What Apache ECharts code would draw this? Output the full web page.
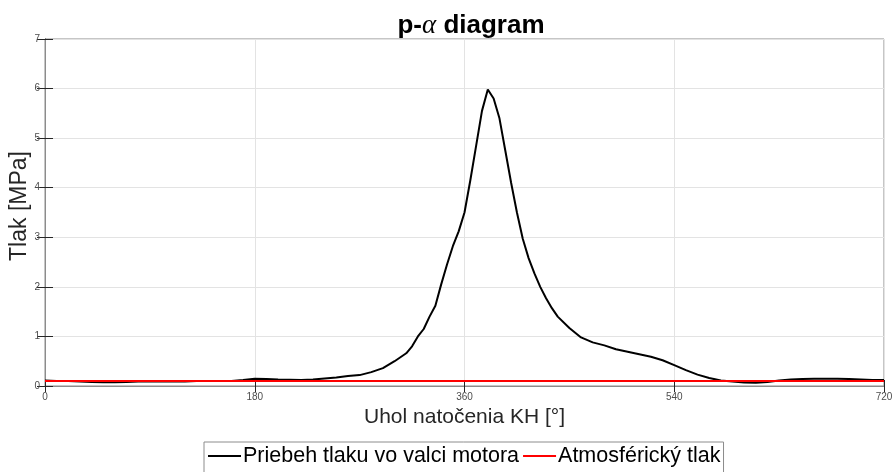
<!DOCTYPE html>
<html>
<head>
<meta charset="utf-8">
<script src="https://cdn.jsdelivr.net/npm/echarts@6/dist/echarts.min.js"></script>
<style>
  html, body { margin: 0; padding: 0; background: #fff; }
  #chart { width: 896px; height: 472px; }
</style>
</head>
<body>
<div id="chart"></div>
<script>
// uhol natocenia KH [deg] a tlak vo valci [MPa]
const angles = [0, 10, 20, 30, 40, 50, 60, 70, 80, 90, 100, 110, 120, 130, 140, 150, 160, 170,
  180, 190, 200, 210, 220, 230, 240, 250, 260, 270, 280, 290, 300, 305, 310, 315, 320, 325,
  330, 335, 340, 345, 350, 355, 360, 365, 370, 375, 380, 385, 390, 395, 400, 405, 410, 415,
  420, 425, 430, 435, 440, 450, 460, 470, 480, 490, 500, 510, 520, 530, 540, 550, 560, 570,
  580, 590, 600, 610, 620, 630, 640, 650, 660, 670, 680, 690, 700, 710, 720];
const pressure = [0.11, 0.10, 0.10, 0.09, 0.08, 0.075, 0.075, 0.08, 0.09, 0.09, 0.09, 0.09, 0.09, 0.10, 0.10, 0.10, 0.10, 0.12,
  0.145, 0.14, 0.13, 0.125, 0.12, 0.13, 0.15, 0.17, 0.20, 0.22, 0.28, 0.36, 0.50, 0.58, 0.66, 0.80, 1.00, 1.15,
  1.40, 1.62, 2.05, 2.45, 2.82, 3.12, 3.50, 4.15, 4.85, 5.55, 5.98, 5.80, 5.40, 4.75, 4.10, 3.50, 2.97, 2.58,
  2.27, 2.00, 1.77, 1.57, 1.40, 1.17, 0.98, 0.88, 0.82, 0.74, 0.69, 0.64, 0.59, 0.52, 0.42, 0.32, 0.23, 0.16,
  0.11, 0.09, 0.07, 0.065, 0.08, 0.11, 0.13, 0.14, 0.145, 0.145, 0.145, 0.14, 0.13, 0.12, 0.12];
const atmAngles = [0, 720];
const atmPressure = [0.1, 0.1];
const seriesNames = ['Priebeh tlaku vo valci motora', 'Atmosférický tlak'];

const chart = echarts.init(document.getElementById('chart'));

const font = '"Liberation Sans", Arial, sans-serif';
const axisDark = '#262626';

const option = {
  backgroundColor: '#fff',
  animation: false,
  textStyle: { fontFamily: font },
  title: {
    text: '{t|p-}{a|α}{t| diagram}',
    left: 466,
    textAlign: 'center',
    top: 7,
    textStyle: {
      rich: {
        t: { fontSize: 26, fontWeight: 'bold', color: '#000', fontFamily: font },
        a: { fontSize: 27, fontStyle: 'italic', fontWeight: 'normal', color: '#000', fontFamily: '"Liberation Serif", serif' }
      }
    }
  },
  // popis osi y (rucne, aby nebol orezany)
  graphic: [{
    type: 'text',
    x: 20, y: 206,
    rotation: Math.PI / 2,
    style: {
      text: 'Tlak [MPa]',
      fontSize: 23,
      fontFamily: font,
      fill: axisDark,
      align: 'center',
      verticalAlign: 'middle'
    }
  }],
  grid: {
    left: 45, right: 12, top: 39, bottom: 86,
    containLabel: false, outerBoundsMode: 'none',
    show: true, borderColor: '#8c8c8c', borderWidth: 1
  },
  legend: {
    left: 204,
    top: 442,
    orient: 'horizontal',
    itemWidth: 33,
    itemHeight: 2,
    itemGap: 4,
    padding: [3, 3, 6, 4],
    borderColor: '#8c8c8c',
    borderWidth: 1,
    textStyle: { fontSize: 21.5, color: '#000', fontFamily: font, padding: [0, 0, 0, -3] },
    data: seriesNames.map(n => ({ name: n, icon: 'rect' }))
  },
  xAxis: [{
    type: 'value', min: 0, max: 720, interval: 180,
    name: 'Uhol natočenia KH [°]', nameLocation: 'middle', nameGap: 17,
    nameTextStyle: { fontSize: 21, color: axisDark },
    axisLine: { show: true, onZero: false, lineStyle: { color: axisDark, width: 1 } },
    axisTick: { show: true, inside: true, length: 6, lineStyle: { color: axisDark } },
    axisLabel: { fontSize: 10, color: '#4d4d4d', margin: 6 },
    splitLine: { show: true, lineStyle: { color: '#e3e3e3', width: 1 } }
  }, {
    type: 'value', min: 0, max: 720, interval: 180, position: 'top',
    axisLine: { show: true, lineStyle: { color: '#8c8c8c' } },
    axisTick: { show: true, inside: true, length: 6, lineStyle: { color: axisDark } },
    axisLabel: { show: false }, splitLine: { show: false }
  }],
  yAxis: [{
    type: 'value', min: 0, max: 7, interval: 1,
    axisLine: { show: true, onZero: false, lineStyle: { color: axisDark, width: 1 } },
    axisTick: { show: true, inside: true, length: 8, lineStyle: { color: axisDark } },
    axisLabel: { fontSize: 10, color: '#4d4d4d', margin: 5 },
    splitLine: { show: true, lineStyle: { color: '#e3e3e3', width: 1 } }
  }, {
    type: 'value', min: 0, max: 7, interval: 1, position: 'right',
    axisLine: { show: true, lineStyle: { color: '#8c8c8c' } },
    axisTick: { show: true, inside: true, length: 8, lineStyle: { color: axisDark } },
    axisLabel: { show: false }, splitLine: { show: false }
  }],
  series: [{
    name: seriesNames[0],
    type: 'line',
    data: angles.map((a, i) => [a, pressure[i]]),
    showSymbol: false, symbol: 'none',
    lineStyle: { color: '#000', width: 2 },
    itemStyle: { color: '#000' },
    z: 3
  }, {
    name: seriesNames[1],
    type: 'line',
    data: atmAngles.map((a, i) => [a, atmPressure[i]]),
    showSymbol: false, symbol: 'none',
    lineStyle: { color: '#ff0000', width: 2 },
    itemStyle: { color: '#ff0000' },
    z: 4
  }]
};

chart.setOption(option);
window.addEventListener('resize', () => chart.resize());
</script>
</body>
</html>
